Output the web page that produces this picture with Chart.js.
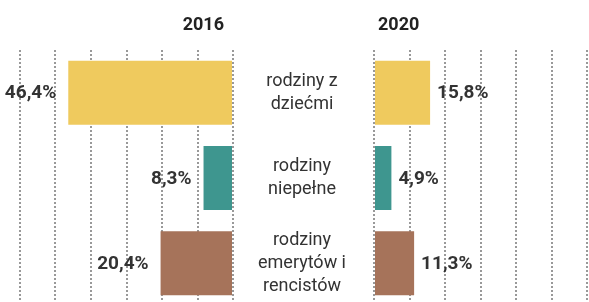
<!DOCTYPE html>
<html>
<head>
<meta charset="utf-8">
<script src="https://cdn.jsdelivr.net/npm/chart.js@4/dist/chart.umd.min.js"></script>
<style>
  html, body { margin: 0; padding: 0; background: #fff; overflow: hidden; }
  #wrap { position: relative; width: 589px; height: 302px; overflow: hidden; }
  #left { position: absolute; left: 0; top: 0; }
  #right { position: absolute; left: 233px; top: 0; }
</style>
</head>
<body>
<div id="wrap">
  <div id="left" style="width:240px;height:306px"><canvas id="chartLeft"></canvas></div>
  <div id="right" style="width:356px;height:306px"><canvas id="chartRight"></canvas></div>
</div>
<script>
var categories = [['rodziny z', 'dziećmi'], ['rodziny', 'niepełne'], ['rodziny', 'emerytów i', 'rencistów']];
var years = ['2016', '2020'];
var values2016 = [46.4, 8.3, 20.4];
var values2020 = [15.8, 4.9, 11.3];
var colors = ['#EFCA5E', '#3E968F', '#A6735A'];

var FONT = 'Roboto, "Noto Sans", sans-serif';

// draws the value next to each bar end, and the year above the panel
var valueLabels = {
    id: 'valueLabels',
    afterDatasetsDraw: function(chart, args, opts) {
        var ctx = chart.ctx;
        var meta = chart.getDatasetMeta(0);
        var data = chart.data.datasets[0].data;
        var area = chart.chartArea;
        ctx.save();
        ctx.fillStyle = '#333';
        ctx.textBaseline = 'middle';
        ctx.font = 'bold 19px ' + FONT;
        meta.data.forEach(function(bar, i) {
            var txt = data[i].toFixed(1).replace('.', ',') + '%';
            if (opts.side === 'left') {
                ctx.textAlign = 'right';
                ctx.fillText(txt, bar.x - 12, bar.y + 1);
            } else {
                ctx.textAlign = 'left';
                ctx.fillText(txt, bar.x + 7, bar.y + 1);
            }
        });
        ctx.fillStyle = '#222';
        ctx.font = 'bold 18px ' + FONT;
        if (opts.side === 'left') {
            ctx.textAlign = 'right';
            ctx.fillText(opts.year, area.right - 9, 25);
        } else {
            ctx.textAlign = 'left';
            ctx.fillText(opts.year, area.left + 4, 25);
        }
        ctx.restore();
    }
};

function xAxis(reverse) {
    return {
        position: 'top',
        min: 0,
        max: 60,
        reverse: reverse,
        ticks: { display: false, stepSize: 10 },
        grid: { color: '#999', lineWidth: 2, drawTicks: false },
        border: { display: false, dash: [2, 2] },
        afterFit: function(scale) { scale.height = 50; }
    };
}

new Chart(document.getElementById('chartLeft'), {
    type: 'bar',
    data: {
        labels: categories,
        datasets: [{
            data: values2016,
            backgroundColor: colors,
            barPercentage: 0.75,
            categoryPercentage: 1
        }]
    },
    options: {
        indexAxis: 'y',
        responsive: true,
        maintainAspectRatio: false,
        animation: false,
        layout: { padding: { left: 20, right: 7, top: 0, bottom: 0 } },
        plugins: {
            legend: { display: false },
            tooltip: { enabled: false },
            valueLabels: { side: 'left', year: years[0] }
        },
        scales: {
            x: xAxis(true),
            y: { display: false }
        }
    },
    plugins: [valueLabels]
});

new Chart(document.getElementById('chartRight'), {
    type: 'bar',
    data: {
        labels: categories,
        datasets: [{
            data: values2020,
            backgroundColor: colors,
            barPercentage: 0.75,
            categoryPercentage: 1
        }]
    },
    options: {
        indexAxis: 'y',
        responsive: true,
        maintainAspectRatio: false,
        animation: false,
        layout: { padding: { left: 0, right: 2, top: 0, bottom: 0 } },
        plugins: {
            legend: { display: false },
            tooltip: { enabled: false },
            valueLabels: { side: 'right', year: years[1] }
        },
        scales: {
            x: xAxis(false),
            y: {
                position: 'left',
                grid: { display: false, drawTicks: false },
                border: { display: false },
                ticks: {
                    color: '#333',
                    crossAlign: 'center',
                    padding: 28,
                    font: { family: FONT, size: 18, lineHeight: 1.27 }
                },
                afterFit: function(scale) {
                    scale.width = 141;
                    scale.paddingTop = 0;
                    scale.paddingBottom = 0;
                }
            }
        }
    },
    plugins: [valueLabels]
});
</script>
</body>
</html>
